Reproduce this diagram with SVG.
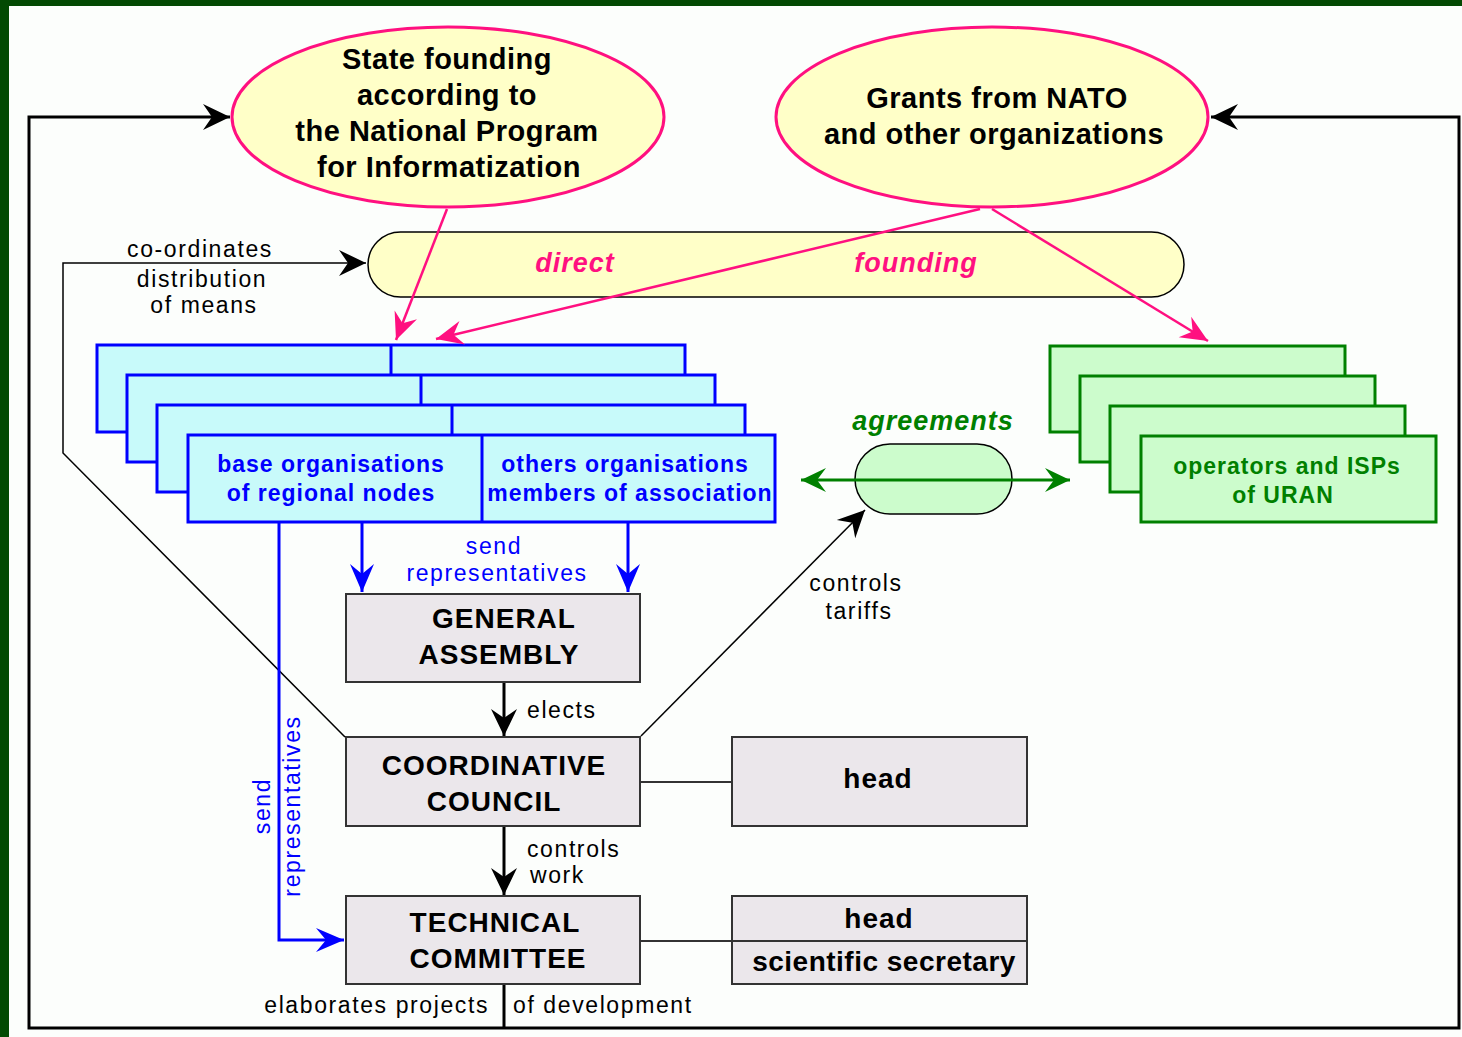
<svg xmlns="http://www.w3.org/2000/svg" width="1462" height="1037" viewBox="0 0 1462 1037">
<style>
text{font-family:"Liberation Sans",Arial,sans-serif}
.lbl{font-size:23px;letter-spacing:1.6px;fill:#000}
.blbl{font-size:23px;letter-spacing:1.6px;fill:#0000ff}
.ell{font-size:29px;font-weight:bold;letter-spacing:0.5px;fill:#000;text-anchor:middle}
.box{font-size:28px;font-weight:bold;letter-spacing:1px;fill:#000;text-anchor:middle}
.stk{font-size:23px;font-weight:bold;letter-spacing:1px;text-anchor:middle}
.it{font-size:27px;font-weight:bold;font-style:italic;letter-spacing:1px;text-anchor:middle}
.gbox{fill:#ebe7eb;stroke:#333;stroke-width:2}
.bstk{fill:#c8fafa;stroke:#0000ff;stroke-width:3}
.gstk{fill:#ccfccc;stroke:#008000;stroke-width:3}
.ellipse{fill:#ffffc8;stroke:#ff1080;stroke-width:3}
</style>
<defs>
<marker id="ak" markerUnits="userSpaceOnUse" markerWidth="30" markerHeight="30" refX="0" refY="0" orient="auto-start-reverse" overflow="visible"><path d="M0,0 L-27,-13 L-18,0 L-27,13 Z" fill="#000"/></marker>
<marker id="ap" markerUnits="userSpaceOnUse" markerWidth="30" markerHeight="30" refX="0" refY="0" orient="auto" overflow="visible"><path d="M0,0 L-27,-12 L-18,0 L-27,12 Z" fill="#ff1080"/></marker>
<marker id="ab" markerUnits="userSpaceOnUse" markerWidth="30" markerHeight="30" refX="0" refY="0" orient="auto" overflow="visible"><path d="M0,0 L-28,-12 L-18,0 L-28,12 Z" fill="#0000ff"/></marker>
<marker id="ag" markerUnits="userSpaceOnUse" markerWidth="30" markerHeight="30" refX="0" refY="0" orient="auto-start-reverse" overflow="visible"><path d="M0,0 L-25,-12 L-16,0 L-25,12 Z" fill="#008000"/></marker>
</defs>
<rect x="0" y="0" width="1462" height="1037" fill="#034a03"/>
<rect x="9" y="6" width="1453" height="1031" fill="#fcfefc"/>

<g id="frame">
<path d="M230,117 H29 V1028 H1459 V117 H1211" fill="none" stroke="#000" stroke-width="3" marker-start="url(#ak)" marker-end="url(#ak)"/>
</g>

<g id="state-founding">
<ellipse class="ellipse" cx="448" cy="117" rx="216" ry="90"/>
<text class="ell" x="447" y="69">State founding</text>
<text class="ell" x="447" y="105">according to</text>
<text class="ell" x="447" y="141">the National Program</text>
<text class="ell" x="449" y="177">for Informatization</text>
</g>

<g id="grants">
<ellipse class="ellipse" cx="992" cy="117" rx="216" ry="90"/>
<text class="ell" x="997" y="108">Grants from NATO</text>
<text class="ell" x="994" y="144">and other organizations</text>
</g>

<g id="direct-founding">
<rect x="368" y="232" width="816" height="65" rx="32.5" fill="#ffffc8" stroke="#000" stroke-width="1.5"/>
<text class="it" x="575" y="272" fill="#ff1080">direct</text>
<text class="it" x="916" y="272" fill="#ff1080">founding</text>
</g>

<g id="organisations">
<rect class="bstk" x="97" y="345" width="588" height="87"/><line x1="391" y1="345" x2="391" y2="432" stroke="#0000ff" stroke-width="3"/>
<rect class="bstk" x="127" y="375" width="588" height="87"/><line x1="421" y1="375" x2="421" y2="462" stroke="#0000ff" stroke-width="3"/>
<rect class="bstk" x="157" y="405" width="588" height="87"/><line x1="452" y1="405" x2="452" y2="492" stroke="#0000ff" stroke-width="3"/>
<rect class="bstk" x="188" y="435" width="587" height="87"/><line x1="482" y1="435" x2="482" y2="522" stroke="#0000ff" stroke-width="3"/>
<text class="stk" x="331" y="472" fill="#0000ff">base organisations</text>
<text class="stk" x="331" y="501" fill="#0000ff">of regional nodes</text>
<text class="stk" x="625" y="472" fill="#0000ff">others organisations</text>
<text class="stk" x="630" y="501" fill="#0000ff">members of association</text>
</g>

<g id="operators">
<rect class="gstk" x="1050" y="346" width="295" height="86"/>
<rect class="gstk" x="1080" y="376" width="295" height="86"/>
<rect class="gstk" x="1110" y="406" width="295" height="86"/>
<rect class="gstk" x="1141" y="436" width="295" height="86"/>
<text class="stk" x="1287" y="474" fill="#008000">operators and ISPs</text>
<text class="stk" x="1283" y="503" fill="#008000">of URAN</text>
</g>

<g id="agreements">
<rect x="855" y="444" width="157" height="70" rx="35" fill="#ccfccc" stroke="#000" stroke-width="1.5"/>
<text class="it" x="933" y="430" fill="#008000">agreements</text>
</g>

<g id="general-assembly">
<rect class="gbox" x="346" y="594" width="294" height="88"/>
<text class="box" x="504" y="628">GENERAL</text>
<text class="box" x="499" y="664">ASSEMBLY</text>
</g>

<g id="coordinative-council">
<rect class="gbox" x="346" y="737" width="294" height="89"/>
<text class="box" x="494" y="775">COORDINATIVE</text>
<text class="box" x="494" y="811">COUNCIL</text>
</g>

<g id="technical-committee">
<rect class="gbox" x="346" y="896" width="294" height="88"/>
<text class="box" x="495" y="932">TECHNICAL</text>
<text class="box" x="498" y="968">COMMITTEE</text>
</g>

<g id="council-head">
<rect class="gbox" x="732" y="737" width="295" height="89"/>
<text class="box" x="878" y="788">head</text>
</g>

<g id="committee-head">
<rect class="gbox" x="732" y="896" width="295" height="88"/>
<line x1="732" y1="941" x2="1027" y2="941" stroke="#333" stroke-width="2"/>
<text class="box" x="879" y="928">head</text>
<text class="box" x="884" y="971" style="letter-spacing:0.5px">scientific secretary</text>
</g>

<g id="connectors" fill="none">
<polyline points="345,737 63,453 63,263 366,263" stroke="#000" stroke-width="1.5" marker-end="url(#ak)"/>
<line x1="447" y1="209" x2="396" y2="340" stroke="#ff1080" stroke-width="2.5" marker-end="url(#ap)"/>
<line x1="980" y1="209" x2="436" y2="339" stroke="#ff1080" stroke-width="2.5" marker-end="url(#ap)"/>
<line x1="992" y1="209" x2="1208" y2="341" stroke="#ff1080" stroke-width="2.5" marker-end="url(#ap)"/>
<line x1="362" y1="523" x2="362" y2="592" stroke="#0000ff" stroke-width="3" marker-end="url(#ab)"/>
<line x1="628" y1="523" x2="628" y2="592" stroke="#0000ff" stroke-width="3" marker-end="url(#ab)"/>
<polyline points="279,523 279,940 344,940" stroke="#0000ff" stroke-width="3" marker-end="url(#ab)"/>
<line x1="801" y1="480" x2="1070" y2="480" stroke="#008000" stroke-width="3" marker-start="url(#ag)" marker-end="url(#ag)"/>
<line x1="641" y1="736" x2="865" y2="510" stroke="#000" stroke-width="1.5" marker-end="url(#ak)"/>
<line x1="504" y1="683" x2="504" y2="736" stroke="#000" stroke-width="3" marker-end="url(#ak)"/>
<line x1="504" y1="827" x2="504" y2="895" stroke="#000" stroke-width="3" marker-end="url(#ak)"/>
<line x1="504" y1="985" x2="504" y2="1028" stroke="#000" stroke-width="3"/>
<line x1="640" y1="782" x2="732" y2="782" stroke="#333" stroke-width="2"/>
<line x1="640" y1="941" x2="732" y2="941" stroke="#333" stroke-width="2"/>
</g>

<g id="labels">
<text class="lbl" x="200" y="257" text-anchor="middle">co-ordinates</text>
<text class="lbl" x="202" y="287" text-anchor="middle">distribution</text>
<text class="lbl" x="204" y="313" text-anchor="middle">of means</text>
<text class="blbl" x="494" y="554" text-anchor="middle">send</text>
<text class="blbl" x="497" y="581" text-anchor="middle">representatives</text>
<text class="blbl" transform="translate(270,806) rotate(-90)" text-anchor="middle">send</text>
<text class="blbl" transform="translate(300,806) rotate(-90)" text-anchor="middle">representatives</text>
<text class="lbl" x="527" y="718">elects</text>
<text class="lbl" x="527" y="857">controls</text>
<text class="lbl" x="530" y="883">work</text>
<text class="lbl" x="856" y="591" text-anchor="middle">controls</text>
<text class="lbl" x="859" y="619" text-anchor="middle">tariffs</text>
<text class="lbl" x="489" y="1013" text-anchor="end">elaborates projects</text>
<text class="lbl" x="513" y="1013">of development</text>
</g>
</svg>
